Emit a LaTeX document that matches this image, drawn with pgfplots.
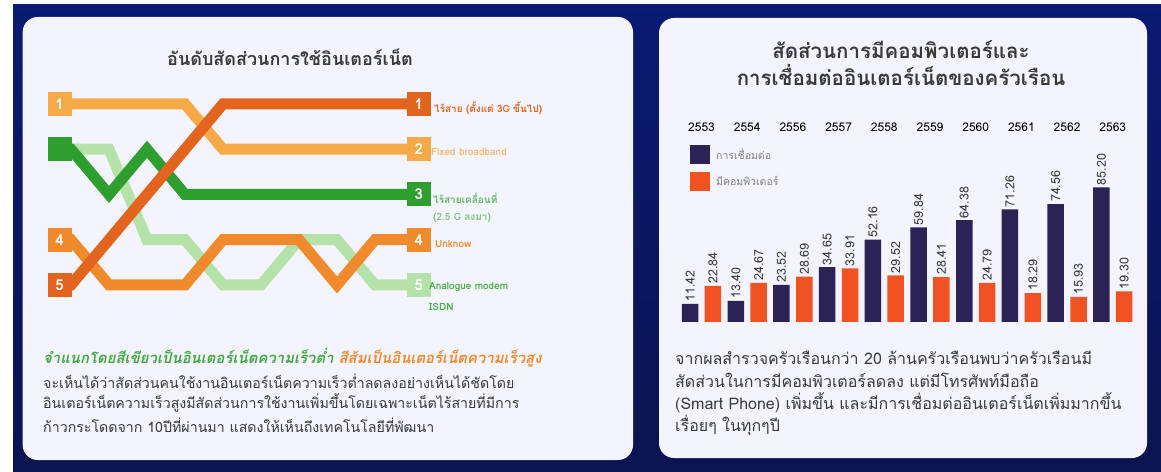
\documentclass[border=0pt]{standalone}
\usepackage{pgfplots}
\pgfplotsset{compat=1.18}
\usepackage{fontspec}
\setmainfont[Script=Thai]{Loma}
\definecolor{bgtop}{HTML}{0B1A72}
\definecolor{bgbot}{HTML}{0A1450}
\definecolor{panel}{HTML}{F3F4FE}
\definecolor{lorange}{HTML}{F5A947}
\definecolor{dorange}{HTML}{E2641F}
\definecolor{morange}{HTML}{F08A2D}
\definecolor{dgreen}{HTML}{2E9E2F}
\definecolor{lgreen}{HTML}{B4E2A8}
\definecolor{navybar}{HTML}{2B2356}
\definecolor{redbar}{HTML}{F05223}
\definecolor{txt}{HTML}{3A3A3A}
\newcommand\fs[1]{\fontsize{#1pt}{#1pt}\selectfont}
\begin{document}
\begin{tikzpicture}[x=1pt,y=1pt]
\fill[white] (0,0) rectangle (1161,471);
\shade[top color=bgtop, bottom color=bgbot] (13,0) rectangle (1161,466);
\fill[panel, rounded corners=15pt] (22.7,11) rectangle (633,454);
\fill[panel, rounded corners=15pt] (659,13) rectangle (1147,453);

% titles
\node[font=\bfseries\fs{18}, text=txt] at (290,414) {อันดับสัดส่วนการใช้อินเตอร์เน็ต};
\node[font=\bfseries\fs{20.5}, text=txt] at (901,421) {สัดส่วนการมีคอมพิวเตอร์และ};
\node[font=\bfseries\fs{20.5}, text=txt] at (901,396) {การเชื่อมต่ออินเตอร์เน็ตของครัวเรือน};

% bump chart
\begin{axis}[at={(44.4pt,163.4pt)}, anchor=south west, scale only axis,
  width=387.6pt, height=226.25pt, xmin=-0.7, xmax=9.5, ymin=0.5, ymax=5.5,
  y dir=reverse, axis lines=none, clip=false]
\pgfplotsset{every axis plot/.append style={line join=miter, miter limit=3, line width=11pt, mark=none}}
\addplot[lgreen] coordinates {(-0.3,2)(0,2)(1,2)(2,4)(3,4)(4,5)(5,5)(6,4)(7,4)(8,5)(9,5)(9.15,5)};
\addplot[lorange] coordinates {(-0.3,1)(0,1)(1,1)(2,1)(3,1)(4,2)(5,2)(6,2)(7,2)(8,2)(9,2)(9.15,2)};
\addplot[dgreen] coordinates {(-0.3,2)(0,2)(1,3)(2,2)(3,3)(4,3)(5,3)(6,3)(7,3)(8,3)(9,3)(9.15,3)};
\addplot[morange] coordinates {(-0.3,4)(0,4)(1,5)(2,5)(3,5)(4,4)(5,4)(6,4)(7,5)(8,4)(9,4)(9.15,4)};
\addplot[dorange] coordinates {(-0.3,5)(0,5)(1,4)(2,3)(3,2)(4,1)(5,1)(6,1)(7,1)(8,1)(9,1)(9.15,1)};
\pgfplotsset{sq/.style={only marks, mark=square*, mark size=11.5pt, line width=0pt,
  nodes near coords, point meta=explicit symbolic,
  every node near coord/.append style={anchor=center, text=white, font=\bfseries\fs{15}}}}
\addplot[sq, lorange, mark options={fill=lorange, draw=lorange}] coordinates {(-0.3,1)[1] (9.15,2)[2]};
\addplot[sq, dgreen, mark options={fill=dgreen, draw=dgreen}] coordinates {(-0.3,2)[{}] (9.15,3)[3]};
\addplot[sq, morange, mark options={fill=morange, draw=morange}] coordinates {(-0.3,4)[4] (9.15,4)[4]};
\addplot[sq, dorange, mark options={fill=dorange, draw=dorange}] coordinates {(-0.3,5)[5] (9.15,1)[1]};
\addplot[sq, lgreen, mark options={fill=lgreen, draw=lgreen}] coordinates {(9.15,5)[5]};
\end{axis}

% bump labels
\begin{scope}[every node/.style={anchor=west, inner sep=0pt, font=\bfseries\fs{10}}]
\node[text=dorange] at (434,363) {ไร้สาย (ตั้งแต่ 3G ขึ้นไป)};
\node[text=lorange!80!white] at (431,319) {Fixed broadband};
\node[text=dgreen!60!lgreen] at (433,273) {ไร้สายเคลื่อนที่};
\node[text=dgreen!40!lgreen] at (433,253) {(2.5 G ลงมา)};
\node[text=morange] at (435,227) {Unknow};
\node[text=dgreen!80!lgreen] at (429,184) {Analogue modem};
\node[text=dgreen!80!lgreen] at (429,164) {ISDN};
\end{scope}

% left paragraph
\begin{scope}[every node/.style={anchor=west, inner sep=0pt, font=\fs{14.2}, text=txt}]
\node[font=\fs{14.9}] at (43,113) {\textcolor{dgreen!85!lgreen}{\bfseries\itshape จำแนกโดยสีเขียวเป็นอินเตอร์เน็ตความเร็วต่ำ} \textcolor{morange}{\bfseries\itshape สีส้มเป็นอินเตอร์เน็ตความเร็วสูง}};
\node at (43,90) {จะเห็นได้ว่าสัดส่วนคนใช้งานอินเตอร์เน็ตความเร็วต่ำลดลงอย่างเห็นได้ชัดโดย};
\node at (43,68) {อินเตอร์เน็ตความเร็วสูงมีสัดส่วนการใช้งานเพิ่มขึ้นโดยเฉพาะเน็ตไร้สายที่มีการ};
\node at (43,46) {ก้าวกระโดดจาก 10ปีที่ผ่านมา แสดงให้เห็นถึงเทคโนโลยีที่พัฒนา};
\end{scope}
% right paragraph
\begin{scope}[every node/.style={anchor=west, inner sep=0pt, font=\fs{16}, text=txt}]
\node at (675,113) {จากผลสำรวจครัวเรือนกว่า 20 ล้านครัวเรือนพบว่าครัวเรือนมี};
\node at (675,91) {สัดส่วนในการมีคอมพิวเตอร์ลดลง แต่มีโทรศัพท์มือถือ};
\node at (675,68) {(Smart Phone) เพิ่มขึ้น และมีการเชื่อมต่ออินเตอร์เน็ตเพิ่มมากขึ้น};
\node at (675,46) {เรื่อยๆ ในทุกๆปี};
\end{scope}

% bar chart
\begin{axis}[at={(674.1pt,149pt)}, anchor=south west, scale only axis,
  width=466.1pt, height=189.7pt, xmin=-0.6, xmax=9.6, ymin=0, ymax=120,
  axis line style={draw=none}, major tick length=0pt, ytick=\empty,
  xtick={0,...,9}, xticklabel pos=upper,
  xticklabels={2553,2554,2556,2557,2558,2559,2560,2561,2562,2563},
  xticklabel style={font=\fs{12}, text=black, inner sep=1pt},
  clip=false,
  legend style={draw=none, fill=none, at={(0.034,0.933)}, anchor=north west,
    font=\fs{10.5}, text=gray, row sep=8pt, inner sep=0pt, cells={anchor=west},
    nodes={inner xsep=6pt}},
  legend image code/.code={\fill[#1] (0pt,-9.5pt) rectangle (20pt,9.5pt);},
  ]
\pgfplotsset{vals/.style={ybar, bar width=16.5pt, bar shift=0pt, draw=none,
  nodes near coords, point meta=explicit symbolic,
  every node near coord/.append style={rotate=90, anchor=west, font=\fs{12.5}, text=txt, inner sep=2pt}}}
\addplot[vals, fill=navybar] coordinates {
(-0.25,11.42)[11.42] (0.75,13.40)[13.40] (1.75,23.52)[23.52] (2.75,34.65)[34.65] (3.75,52.16)[52.16]
(4.75,59.84)[59.84] (5.75,64.38)[64.38] (6.75,71.26)[71.26] (7.75,74.56)[74.56] (8.75,85.20)[85.20]};
\addlegendentry{การเชื่อมต่อ}
\addplot[vals, fill=redbar] coordinates {
(0.25,22.84)[22.84] (1.25,24.67)[24.67] (2.25,28.69)[28.69] (3.25,33.91)[33.91] (4.25,29.52)[29.52]
(5.25,28.41)[28.41] (6.25,24.79)[24.79] (7.25,18.29)[18.29] (8.25,15.93)[15.93] (9.25,19.30)[19.30]};
\addlegendentry{มีคอมพิวเตอร์}
\end{axis}
\pgfresetboundingbox
\path[use as bounding box] (0,0) rectangle (1161,471);
\end{tikzpicture}
\end{document}
